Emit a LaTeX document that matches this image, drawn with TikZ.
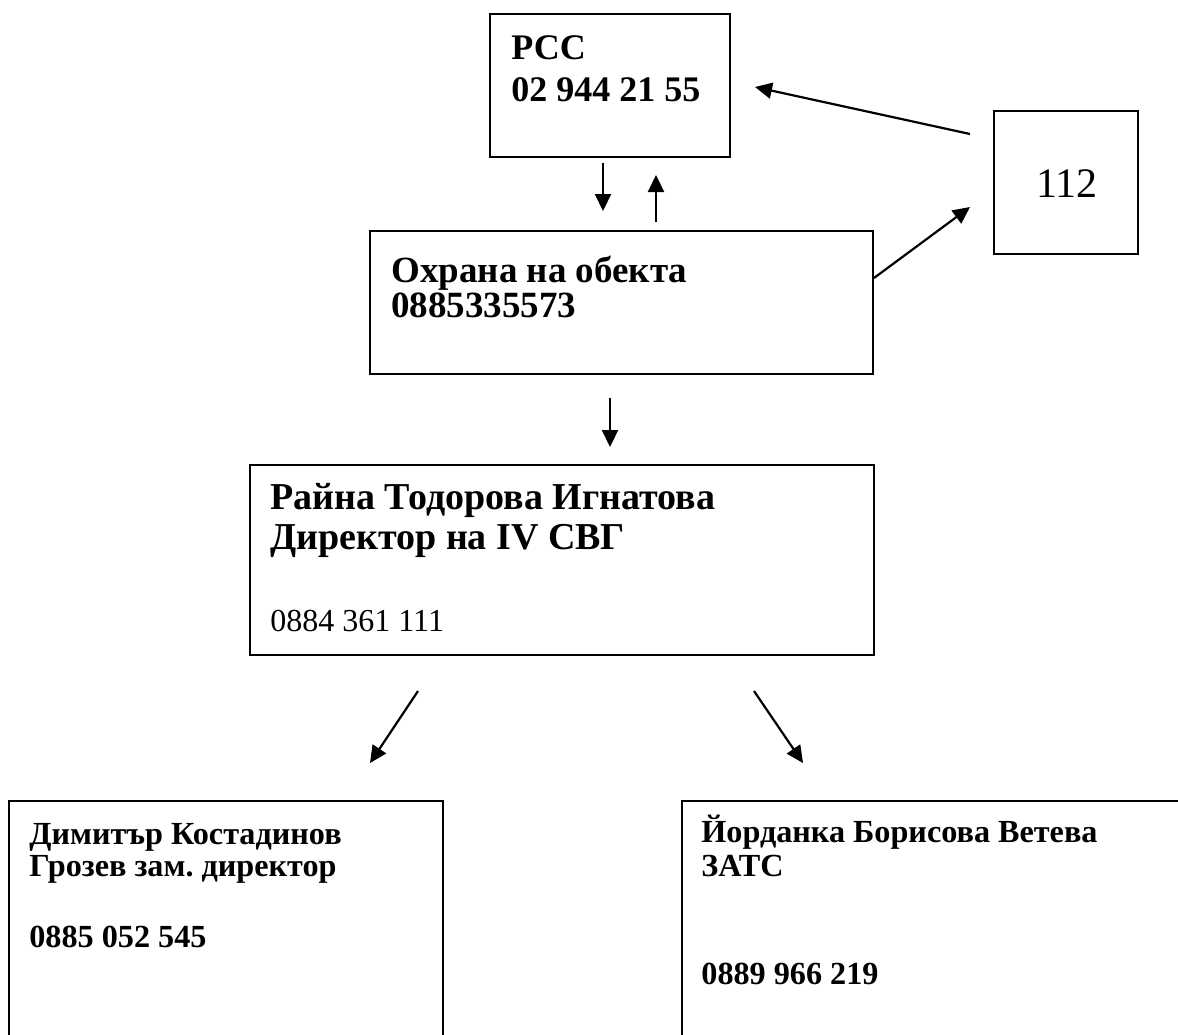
\documentclass[tikz,border=0pt]{standalone}
\usepackage{fontspec}
\setmainfont{Liberation Serif}
\usetikzlibrary{arrows.meta}
\usetikzlibrary{fit}
\frenchspacing

\begin{document}
\begin{tikzpicture}[x=0.5pt,y=-0.5pt,
        box/.style={draw,line width=1pt,inner sep=0pt},
        txt/.style={anchor=base west,inner sep=0pt,align=left},
        arr/.style={line width=1.1pt,-{Triangle[length=8.5pt,width=8pt]}}]
        \clip (0,0) rectangle (1178,1034);
        % boxes
        \node[box,fit={(490,14) (730,157)}]    (rcc) {};
        \node[box,fit={(994,111) (1138,254)}]  (n112) {};
        \node[box,fit={(370,231) (873,374)}]   (guard) {};
        \node[box,fit={(250,465) (874,655)}]   (dir) {};
        \node[box,fit={(9,801) (443,1060)}]    (deputy) {};
        \node[box,fit={(682,801) (1200,1060)}] (zats) {};
        % texts (base = last line)
        \node[txt,font=\fontsize{18}{21}\selectfont\bfseries] (rcc-t) at ([shift={(22,88)}]rcc.north west) {РСС\\02 944 21 55};
        \node[anchor=base,inner sep=0pt,font=\fontsize{21}{24}\selectfont] (n112-t) at ([shift={(74,87)}]n112.north west) {112};
        \node[txt,font=\fontsize{18.5}{17.5}\selectfont\bfseries] (guard-t) at ([shift={(22,87)}]guard.north west) {Охрана на обекта\\0885335573};
        \node[txt,font=\fontsize{19}{20}\selectfont] (dir-t) at ([shift={(21,167)}]dir.north west) {\textbf{Райна Тодорова Игнатова}\\\textbf{Директор на IV СВГ}\\[21pt]{\fontsize{16}{20}\selectfont 0884 361 111}};
        \node[txt,font=\fontsize{16.1}{16}\selectfont\bfseries] (deputy-t) at ([shift={(21,147)}]deputy.north west) {Димитър Костадинов\\Грозев зам. директор\\[19.5pt]0885 052 545};
        \node[txt,font=\fontsize{16.1}{17}\selectfont\bfseries] (zats-t) at ([shift={(20,184)}]zats.north west) {Йорданка Борисова Ветева\\ЗАТС\\[37pt]0889 966 219};
        % arrow ends
        \coordinate (a1s) at (603,163);  \coordinate (a1e) at (603,211);
        \coordinate (a2s) at (656,222);  \coordinate (a2e) at (656,175);
        \coordinate (a3s) at (970,134);  \coordinate (a3e) at (755,87);
        \coordinate (a4s) at (874,278);  \coordinate (a4e) at (970,207);
        \coordinate (a5s) at (610,398);  \coordinate (a5e) at (610,447);
        \coordinate (a6s) at (418,691);  \coordinate (a6e) at (370,763);
        \coordinate (a7s) at (754,691);  \coordinate (a7e) at (803,763);
        \draw[arr] (a1s) -- (a1e);
        \draw[arr] (a2s) -- (a2e);
        \draw[arr] (a3s) -- (a3e);
        \draw[arr] (a4s) -- (a4e);
        \draw[arr] (a5s) -- (a5e);
        \draw[arr] (a6s) -- (a6e);
        \draw[arr] (a7s) -- (a7e);
      \end{tikzpicture}
\end{document}
